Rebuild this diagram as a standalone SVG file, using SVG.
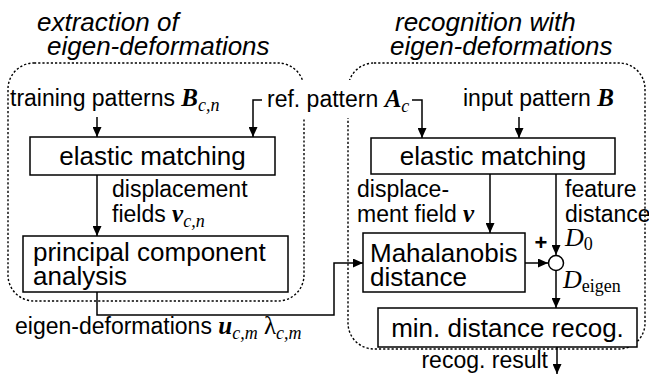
<svg xmlns="http://www.w3.org/2000/svg" width="649" height="387" viewBox="0 0 649 387">
<style>
.bg{fill:#fff}
.grp{fill:none;stroke:#000;stroke-width:1.4;stroke-dasharray:2.2,2}
.box{fill:#fff;stroke:#000;stroke-width:1.5}
.con{fill:none;stroke:#000;stroke-width:1.5}
.title{font-family:"Liberation Sans",Arial,sans-serif;font-style:italic;font-size:26px;fill:#000}
.bt{font-family:"Liberation Sans",Arial,sans-serif;font-size:26px;fill:#000}
.lb{font-family:"Liberation Sans",Arial,sans-serif;font-size:23px;fill:#000}
.mb{font-family:"Liberation Serif","Times New Roman",serif;font-weight:bold;font-style:italic;font-size:25px}
.mi{font-family:"Liberation Serif","Times New Roman",serif;font-style:italic;font-size:26px}
.ms{font-family:"Liberation Serif","Times New Roman",serif;font-style:italic;font-weight:normal;font-size:18px}
.mr{font-family:"Liberation Serif","Times New Roman",serif;font-style:normal;font-weight:normal;font-size:18px}
.ml{font-family:"Liberation Serif","Times New Roman",serif;font-style:normal;font-size:25px}
</style>
<defs>
<marker id="ah" markerUnits="userSpaceOnUse" markerWidth="10" markerHeight="9" refX="10" refY="4.5" orient="auto">
<path d="M0,0 L10,4.5 L0,9 z" fill="#000"/>
</marker>
</defs>
<rect class="bg" x="0" y="0" width="649" height="387"/>

<g id="titles">
<text class="title" x="37" y="31">extraction of</text>
<text class="title" x="47" y="55">eigen-deformations</text>
<text class="title" x="395" y="31">recognition with</text>
<text class="title" x="390" y="55">eigen-deformations</text>
</g>

<g id="groups">
<rect class="grp" x="8" y="63" width="296" height="238" rx="26" ry="26"/>
<rect class="grp" x="348" y="63" width="297" height="286" rx="26" ry="26"/>
<rect class="bg" x="262" y="80" width="148" height="38"/>
</g>

<g id="connectors">
<path class="con" d="M97,117 V137" marker-end="url(#ah)"/>
<path class="con" d="M262,100 H253 V137" marker-end="url(#ah)"/>
<path class="con" d="M412,100 H422 V138" marker-end="url(#ah)"/>
<path class="con" d="M519,117 V138" marker-end="url(#ah)"/>
<path class="con" d="M97,175 V236" marker-end="url(#ah)"/>
<path class="con" d="M97,292 V315 H334 V263 H363" marker-end="url(#ah)"/>
<path class="con" d="M490,174 V233" marker-end="url(#ah)"/>
<path class="con" d="M556,174 V255" marker-end="url(#ah)"/>
<path class="con" d="M525,263 H548" marker-end="url(#ah)"/>
<path class="con" d="M556,271 V308" marker-end="url(#ah)"/>
<path class="con" d="M557,347 V374" marker-end="url(#ah)"/>
</g>

<g id="training-patterns">
<text class="lb" x="10" y="106">training patterns <tspan class="mb">B</tspan><tspan class="ms" dy="5">c,n</tspan></text>
</g>
<g id="ref-pattern">
<text class="lb" x="267" y="107">ref. pattern <tspan class="mb">A</tspan><tspan class="ms" dy="5">c</tspan></text>
</g>
<g id="input-pattern">
<text class="lb" x="463" y="106">input pattern <tspan class="mb">B</tspan></text>
</g>

<g id="elastic-matching-left">
<rect class="box" x="30" y="137" width="245" height="38"/>
<text class="bt" x="152.5" y="165" text-anchor="middle">elastic matching</text>
</g>
<g id="displacement-fields">
<text class="lb" x="112" y="197">displacement</text>
<text class="lb" x="112" y="222">fields <tspan class="mb">v</tspan><tspan class="ms" dy="5">c,n</tspan></text>
</g>
<g id="pca">
<rect class="box" x="23" y="236" width="265" height="56"/>
<text class="bt" x="33" y="261">principal component</text>
<text class="bt" x="33" y="285">analysis</text>
</g>
<g id="eigen-deformations">
<text class="lb" x="15" y="334">eigen-deformations <tspan class="mb">u</tspan><tspan class="ms" dy="5">c,m</tspan><tspan class="ml" dy="-5"> λ</tspan><tspan class="ms" dy="5">c,m</tspan></text>
</g>

<g id="elastic-matching-right">
<rect class="box" x="371" y="138" width="244" height="36"/>
<text class="bt" x="493" y="165" text-anchor="middle">elastic matching</text>
</g>
<g id="displacement-field">
<text class="lb" x="357" y="197">displace-</text>
<text class="lb" x="357" y="222">ment field <tspan class="mb">v</tspan></text>
</g>
<g id="feature-distance">
<text class="lb" x="565" y="197">feature</text>
<text class="lb" x="565" y="222">distance</text>
<text class="mi" x="565" y="246">D<tspan class="mr" dy="4">0</tspan></text>
</g>
<g id="mahalanobis">
<rect class="box" x="363" y="233" width="162" height="59"/>
<text class="bt" x="370" y="262">Mahalanobis</text>
<text class="bt" x="370" y="286">distance</text>
</g>
<g id="sum">
<circle class="box" cx="556" cy="263" r="7.5"/>
<text x="541" y="250" text-anchor="middle" style="font-family:'Liberation Sans',Arial,sans-serif;font-weight:bold;font-size:22px">+</text>
</g>
<g id="d-eigen">
<text class="mi" x="563" y="288">D<tspan class="mr" dy="4">eigen</tspan></text>
</g>
<g id="min-distance">
<rect class="box" x="378" y="308" width="259" height="39"/>
<text class="bt" x="507.5" y="337" text-anchor="middle">min. distance recog.</text>
</g>
<g id="recog-result">
<text class="lb" x="548" y="368" text-anchor="end">recog. result</text>
</g>
</svg>
